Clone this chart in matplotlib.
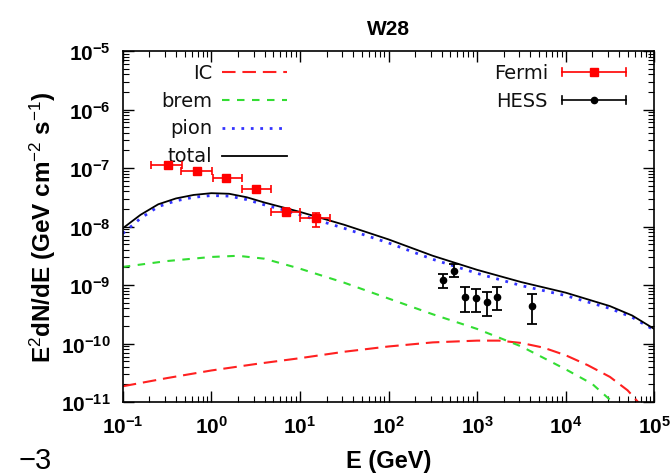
import matplotlib
matplotlib.use("Agg")
import matplotlib.pyplot as plt
import numpy as np

plt.rcParams['font.family'] = ['Liberation Sans', 'DejaVu Sans']
plt.rcParams['mathtext.fontset'] = 'custom'
plt.rcParams['mathtext.rm'] = 'Liberation Sans'
plt.rcParams['mathtext.bf'] = 'Liberation Sans:bold'
plt.rcParams['mathtext.it'] = 'Liberation Sans:italic'

# model curves as log10(E/GeV) and log10(flux)
logE_total = [-1.0, -0.8, -0.6, -0.4, -0.2, 0.0, 0.2, 0.4, 0.6, 0.8, 1.0,
              1.5, 2.0, 2.5, 3.0, 3.5, 4.0, 4.5, 4.75, 5.0]
logF_total = [-8.03, -7.80, -7.62, -7.52, -7.46, -7.43, -7.44, -7.50, -7.59,
              -7.67, -7.75, -7.97, -8.22, -8.50, -8.74, -8.95, -9.13, -9.36,
              -9.52, -9.75]
logF_pion = [-8.12, -7.86, -7.66, -7.56, -7.50, -7.47, -7.48, -7.54, -7.63,
             -7.71, -7.80, -8.03, -8.28, -8.56, -8.80, -9.01, -9.18, -9.40,
             -9.55, -9.77]

logE_brem = [-1.0, -0.5, 0.0, 0.3, 0.6, 1.0, 1.5, 2.0, 2.5, 3.0, 3.5, 4.0,
             4.3, 4.5, 4.53]
logF_brem = [-8.69, -8.59, -8.52, -8.50, -8.55, -8.72, -8.96, -9.23, -9.50,
             -9.75, -10.05, -10.44, -10.69, -10.96, -11.02]

logE_ic = [-1.0, -0.5, 0.0, 0.5, 1.0, 1.5, 2.0, 2.5, 3.0, 3.25, 3.5, 3.75,
           4.0, 4.25, 4.5, 4.7, 4.83]
logF_ic = [-10.73, -10.59, -10.46, -10.35, -10.25, -10.14, -10.05, -9.98,
           -9.95, -9.95, -9.99, -10.07, -10.20, -10.37, -10.57, -10.80, -11.02]

# Fermi points
fermi_E = [0.32, 0.69, 1.46, 3.2, 6.9, 15.0]
fermi_lo = [0.21, 0.46, 1.04, 2.2, 4.7, 10.0]
fermi_hi = [0.47, 1.01, 2.2, 4.7, 10.0, 22.0]
fermi_F = [1.12e-7, 8.9e-8, 6.8e-8, 4.4e-8, 1.8e-8, 1.4e-8]
fermi_Flo = [1.12e-7, 8.9e-8, 6.8e-8, 4.4e-8, 1.6e-8, 1.0e-8]
fermi_Fhi = [1.12e-7, 8.9e-8, 6.8e-8, 4.4e-8, 2.1e-8, 1.7e-8]

# HESS points
hess_E = [415, 550, 730, 975, 1290, 1690, 4170]
hess_F = [1.23e-9, 1.74e-9, 6.2e-10, 6.0e-10, 5.1e-10, 6.2e-10, 4.4e-10]
hess_Flo = [8.9e-10, 1.38e-9, 3.5e-10, 3.5e-10, 2.95e-10, 3.7e-10, 2.15e-10]
hess_Fhi = [1.55e-9, 2.3e-9, 9.3e-10, 8.5e-10, 7.6e-10, 9.3e-10, 7.1e-10]

fig = plt.figure(figsize=(6.71, 4.77), dpi=100)
ax = fig.add_axes([0.183, 0.155, 0.792, 0.736])

ax.plot(10 ** np.array(logE_ic), 10 ** np.array(logF_ic), color='#ff2020',
        lw=1.5, dashes=(6.5, 3.3))
ax.plot(10 ** np.array(logE_brem), 10 ** np.array(logF_brem), color='#33dd33',
        lw=1.5, dashes=(3.6, 3.6))
ax.plot(10 ** np.array(logE_total), 10 ** np.array(logF_pion), color='#3333ff',
        lw=2.0, dashes=(1.0, 2.4))
ax.plot(10 ** np.array(logE_total), 10 ** np.array(logF_total), color='black',
        lw=1.3)

fE = np.array(fermi_E)
fF = np.array(fermi_F)
ax.errorbar(fE, fF,
            xerr=[fE - np.array(fermi_lo), np.array(fermi_hi) - fE],
            yerr=[fF - np.array(fermi_Flo), np.array(fermi_Fhi) - fF],
            fmt='s', color='red', ms=6, capsize=3, elinewidth=1.2,
            capthick=1.2, zorder=5)
hF = np.array(hess_F)
ax.errorbar(hess_E, hF,
            yerr=[hF - np.array(hess_Flo), np.array(hess_Fhi) - hF],
            fmt='o', color='black', ms=4.5, capsize=3.5, elinewidth=1.3,
            capthick=1.3, zorder=5)

ax.set_xscale('log')
ax.set_yscale('log')
ax.set_xlim(0.1, 1e5)
ax.set_ylim(1e-11, 1e-5)

ax.set_xticks([10.0 ** k for k in range(-1, 6)])
ax.set_xticklabels([r'$\mathbf{10^{%d}}$' % k for k in range(-1, 6)])
ax.set_yticks([10.0 ** k for k in range(-11, -4)])
ax.set_yticklabels([r'$\mathbf{10^{%d}}$' % k for k in range(-11, -4)])
ax.tick_params(which='both', direction='in', top=True, right=True,
               labelsize=15)
ax.tick_params(which='major', length=8, width=1.0, pad=9)
ax.tick_params(which='minor', length=4.5, width=0.8)
ax.yaxis.set_minor_locator(matplotlib.ticker.LogLocator(base=10, subs=np.arange(2, 10), numticks=20))
ax.xaxis.set_minor_locator(matplotlib.ticker.LogLocator(base=10, subs=np.arange(2, 10), numticks=20))
for s in ax.spines.values():
    s.set_linewidth(1.2)

ax.set_xlabel('E (GeV)', fontsize=17, fontweight='bold', labelpad=9)
ax.set_ylabel(r'E$^2$dN/dE (GeV cm$^{-2}$ s$^{-1}$)', fontsize=17.5,
              fontweight='bold', labelpad=2)
ax.set_title('W28', fontsize=15, fontweight='bold', pad=12)

# legend, left block (text right-aligned before the line sample)
tr = ax.transAxes
left_items = [('IC', dict(color='#ff2020', lw=1.5, dashes=(6.5, 3.3))),
              ('brem', dict(color='#33dd33', lw=1.5, dashes=(3.6, 3.6))),
              ('pion', dict(color='#3333ff', lw=2.0, dashes=(1.0, 2.4))),
              ('total', dict(color='black', lw=1.3))]
ys = [0.940, 0.860, 0.781, 0.701]
for (lab, kw), y in zip(left_items, ys):
    ax.plot([0.186, 0.309], [y, y], transform=tr, clip_on=False, **kw)
    ax.text(0.168, y, lab, transform=tr, ha='right', va='center',
            fontsize=14, family='DejaVu Sans', color='#111111')

# legend, right block
for lab, col, mk, ms, y in [('Fermi', 'red', 's', 6, 0.940),
                            ('HESS', 'black', 'o', 4.5, 0.860)]:
    ax.plot([0.827, 0.947], [y, y], transform=tr, color=col, lw=1.2)
    ax.plot([0.827, 0.827], [y - 0.012, y + 0.012], transform=tr, color=col, lw=1.2)
    ax.plot([0.947, 0.947], [y - 0.012, y + 0.012], transform=tr, color=col, lw=1.2)
    ax.plot([0.887], [y], transform=tr, color=col, marker=mk, ms=ms)
    ax.text(0.800, y, lab, transform=tr, ha='right', va='center',
            fontsize=14, family='DejaVu Sans', color='#111111')

fig.text(0.028, 0.004, '\u22123', fontsize=21, va='bottom', ha='left')

fig.savefig('out.png', dpi=100)
